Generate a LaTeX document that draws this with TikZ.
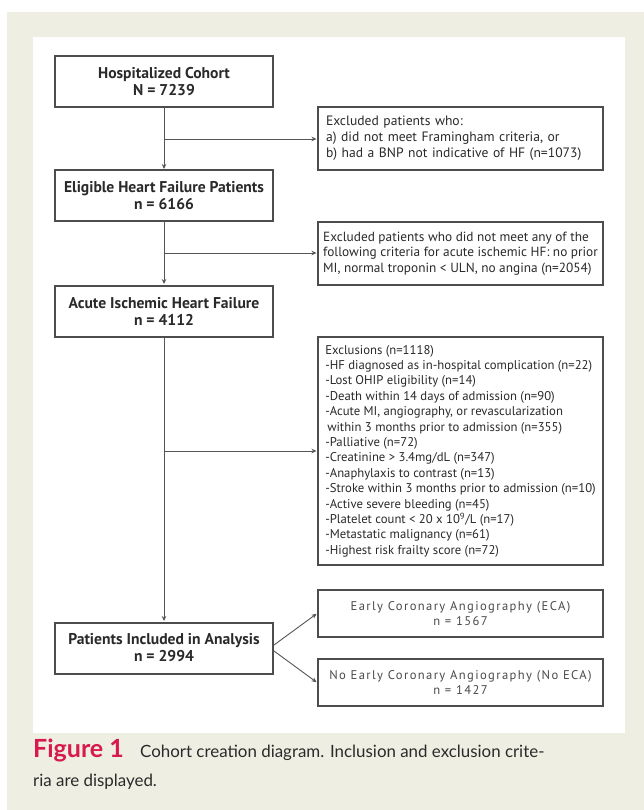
\documentclass[tikz,border=0pt]{standalone}
\usepackage{fontspec}
\setmainfont{PT Sans}
\newfontfamily\capfont{Lato}
\newfontfamily\ecafont[LetterSpace=11]{PT Sans}
\usetikzlibrary{arrows.meta}
\definecolor{beige}{HTML}{EFEEE3}
\definecolor{boxline}{HTML}{4D4D4D}
\definecolor{conn}{HTML}{555555}
\definecolor{txt}{HTML}{2A2A2A}
\definecolor{figred}{HTML}{D7194B}
\begin{document}
\begin{tikzpicture}[x=1pt,y=-1pt,
  mainbox/.style={draw=boxline, line width=2pt, minimum width=218pt, minimum height=51pt,
    inner sep=0pt, align=center, text=txt, font=\bfseries\fontsize{15.6}{17}\selectfont},
  exbox/.style={draw=boxline, line width=2pt, minimum width=285pt, inner ysep=0pt,
    inner xsep=0pt, text=txt, align=left},
  ecabox/.style={draw=boxline, line width=2pt, minimum width=285pt, minimum height=47pt,
    inner sep=0pt, align=center, text=txt!85, font=\ecafont\fontsize{12.6}{15.5}\selectfont},
  conline/.style={draw=conn, line width=0.9pt},
  arr/.style={conline, -{Stealth[length=5pt,width=4.5pt]}, shorten >=0.5pt}
]
\useasboundingbox (0,0) rectangle (644,810);
\fill[white] (0,0) rectangle (644,810);
\fill[beige] (7,12) rectangle (644,810);
\fill[white] (33,37) rectangle (625,733);

% main boxes
\node[mainbox] (b1) at (164,82) {Hospitalized Cohort\\N = 7239};
\node[mainbox] (b2) at (164,196) {Eligible Heart Failure Patients\\n = 6166};
\node[mainbox] (b3) at (164,311) {Acute Ischemic Heart Failure\\n = 4112};
\node[mainbox] (b4) at (164,648) {Patients Included in Analysis\\n = 2994};

% exclusion boxes
\node[exbox, minimum height=63pt, inner xsep=8pt, text width=269pt,
  font=\fontsize{13.6}{16}\selectfont] (e1) at (460.5,138.5)
  {Excluded patients who:\\a) did not meet Framingham criteria, or\\b) had a BNP not indicative of HF (n=1073)};
\node[exbox, minimum height=63pt,
  font=\fontsize{13.3}{15.6}\selectfont] (e2) at (460.5,253.5)
  {Excluded patients who did not meet any of the\\following criteria for acute ischemic HF: no prior\\MI, normal troponin < ULN, no angina (n=2054)};
\node[exbox, minimum height=228pt,
  font=\fontsize{12.7}{15.4}\selectfont] (e3) at (460.5,451)
  {Exclusions (n=1118)\\
   -HF diagnosed as in-hospital complication (n=22)\\
   -Lost OHIP eligibility (n=14)\\
   -Death within 14 days of admission (n=90)\\
   -Acute MI, angiography, or revascularization\\
   \hspace*{2pt}within 3 months prior to admission (n=355)\\
   -Palliative (n=72)\\
   -Creatinine > 3.4mg/dL (n=347)\\
   -Anaphylaxis to contrast (n=13)\\
   -Stroke within 3 months prior to admission (n=10)\\
   -Active severe bleeding (n=45)\\
   -Platelet count < 20 x 10\textsuperscript{9}/L (n=17)\\
   -Metastatic malignancy (n=61)\\
   -Highest risk frailty score (n=72)};

% outcome boxes
\node[ecabox] (eca) at (460.5,613.5) {Early Coronary Angiography (ECA)\\n = 1567};
\node[ecabox] (neca) at (460.5,682.5) {No Early Coronary Angiography (No ECA)\\n = 1427};

% connectors
\coordinate (j1) at (164,139);
\coordinate (j2) at (164,253);
\coordinate (j3) at (164,451);
\draw[arr] (b1.south) -- (b2.north);
\draw[arr] (b2.south) -- (b3.north);
\draw[arr] (b3.south) -- (b4.north);
\draw[arr] (j1) -- (j1 -| e1.west);
\draw[arr] (j2) -- (j2 -| e2.west);
\draw[arr] (j3) -- (j3 -| e3.west);
\coordinate (d1) at ([yshift=3pt]b4.east);
\coordinate (d2) at ([yshift=-3pt]b4.east);
\draw[arr] (d1) -- (eca.west);
\draw[arr] (d2) -- (neca.west);

% caption
\node[anchor=base west, inner sep=0pt, text=txt, font=\capfont\fontsize{16.9}{30}\selectfont] (cap1) at (33,757)
  {\makebox[107pt][l]{\color{figred}\bfseries\fontsize{25}{30}\selectfont Figure 1}Cohort creation diagram. Inclusion and exclusion crite-};
\node[anchor=base west, inner sep=0pt, text=txt, font=\capfont\fontsize{16.9}{30}\selectfont] (cap2) at (33,786)
  {ria are displayed.};
\end{tikzpicture}
\end{document}
